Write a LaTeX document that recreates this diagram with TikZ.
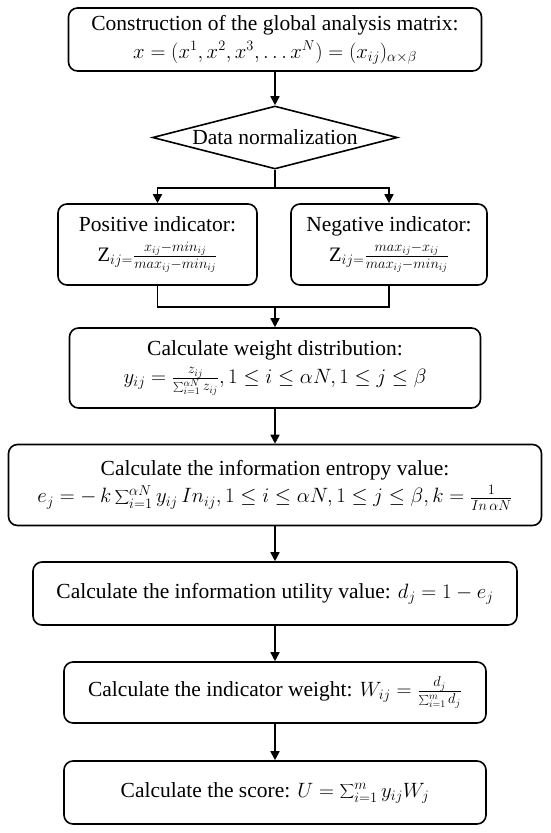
\documentclass[tikz,border=0pt]{standalone}
\usepackage{fontspec}
\setmainfont{Liberation Serif}
\usetikzlibrary{shapes.geometric,arrows.meta}
\newcommand\mymath[1]{{\fontsize{20.5}{28}\selectfont$#1$}}
\newcommand\bigsum{\mathop{\displaystyle\sum}\nolimits}
\begin{document}
\begin{tikzpicture}[x=1pt,y=-1pt,
  box/.style={draw,line width=1.6pt,rounded corners=9pt,align=center,inner sep=2pt,
    font=\fontsize{21.5}{28}\selectfont},
  dia/.style={draw,line width=1.6pt,diamond,aspect=3.9,inner sep=0pt,font=\fontsize{21.5}{27}\selectfont},
  conn/.style={line width=1.6pt},
  arr/.style={line width=1.6pt,-{Triangle[length=9pt,width=9pt]}}]
\useasboundingbox (0,0) rectangle (550,833);
\node[box,minimum width=413pt,minimum height=63pt] (b1) at (275,39.5)
  {Construction of the global analysis matrix:\\
   \mymath{x=(x^1,x^2,x^3,\ldots x^N)=(x_{ij})_{\alpha\times\beta}}};
\node[dia,minimum width=245pt,minimum height=63pt] (dn) at (275,137.5) {Data normalization};
\node[box,minimum width=199pt,minimum height=81pt] (pos) at (157.5,244.5)
  {Positive indicator:\\[2pt]
   \mymath{\mathrm{Z}_{ij=}\frac{x_{ij}-min_{ij}}{max_{ij}-min_{ij}}}};
\node[box,minimum width=196pt,minimum height=81pt] (neg) at (389,244.5)
  {Negative indicator:\\[2pt]
   \mymath{\mathrm{Z}_{ij=}\frac{max_{ij}-x_{ij}}{max_{ij}-min_{ij}}}};
\node[box,minimum width=411pt,minimum height=80pt] (wt) at (275,368)
  {Calculate weight distribution:\\
   \mymath{y_{ij}=\frac{z_{ij}}{\sum_{i=1}^{\alpha N}z_{ij}},1\le i\le\alpha N,1\le j\le\beta}};
\node[box,minimum width=533pt,minimum height=81pt] (en) at (275,485)
  {Calculate the information entropy value:\\
   \mymath{e_j=-\,k\bigsum_{i=1}^{\alpha N}y_{ij}\,In_{ij},1\le i\le\alpha N,1\le j\le\beta,k=\frac{1}{In\,\alpha N}}};
\node[box,minimum width=484pt,minimum height=63pt] (ut) at (275,593.5)
  {Calculate the information utility value: \mymath{d_j=1-e_j}};
\node[box,minimum width=422pt,minimum height=61pt] (iw) at (275,692.5)
  {Calculate the indicator weight: \mymath{W_{ij}=\frac{d_j}{\sum_{i=1}^{m}d_j}}};
\node[box,minimum width=422pt,minimum height=63pt] (sc) at (275,792.5)
  {Calculate the score: \mymath{U=\bigsum_{i=1}^{m}y_{ij}W_j}};
\coordinate (s1) at (275,188);
\coordinate (j1) at (275,307);
\draw[arr] (b1.south) -- (dn.north);
\draw[conn] (dn.south) -- (s1);
\draw[arr] (s1) -| (pos.north);
\draw[arr] (s1) -| (neg.north);
\draw[conn] (pos.south) |- (j1);
\draw[conn] (neg.south) |- (j1);
\draw[arr] (j1) -- (wt.north);
\draw[arr] (wt.south) -- (en.north);
\draw[arr] (en.south) -- (ut.north);
\draw[arr] (ut.south) -- (iw.north);
\draw[arr] (iw.south) -- (sc.north);
\end{tikzpicture}
\end{document}
